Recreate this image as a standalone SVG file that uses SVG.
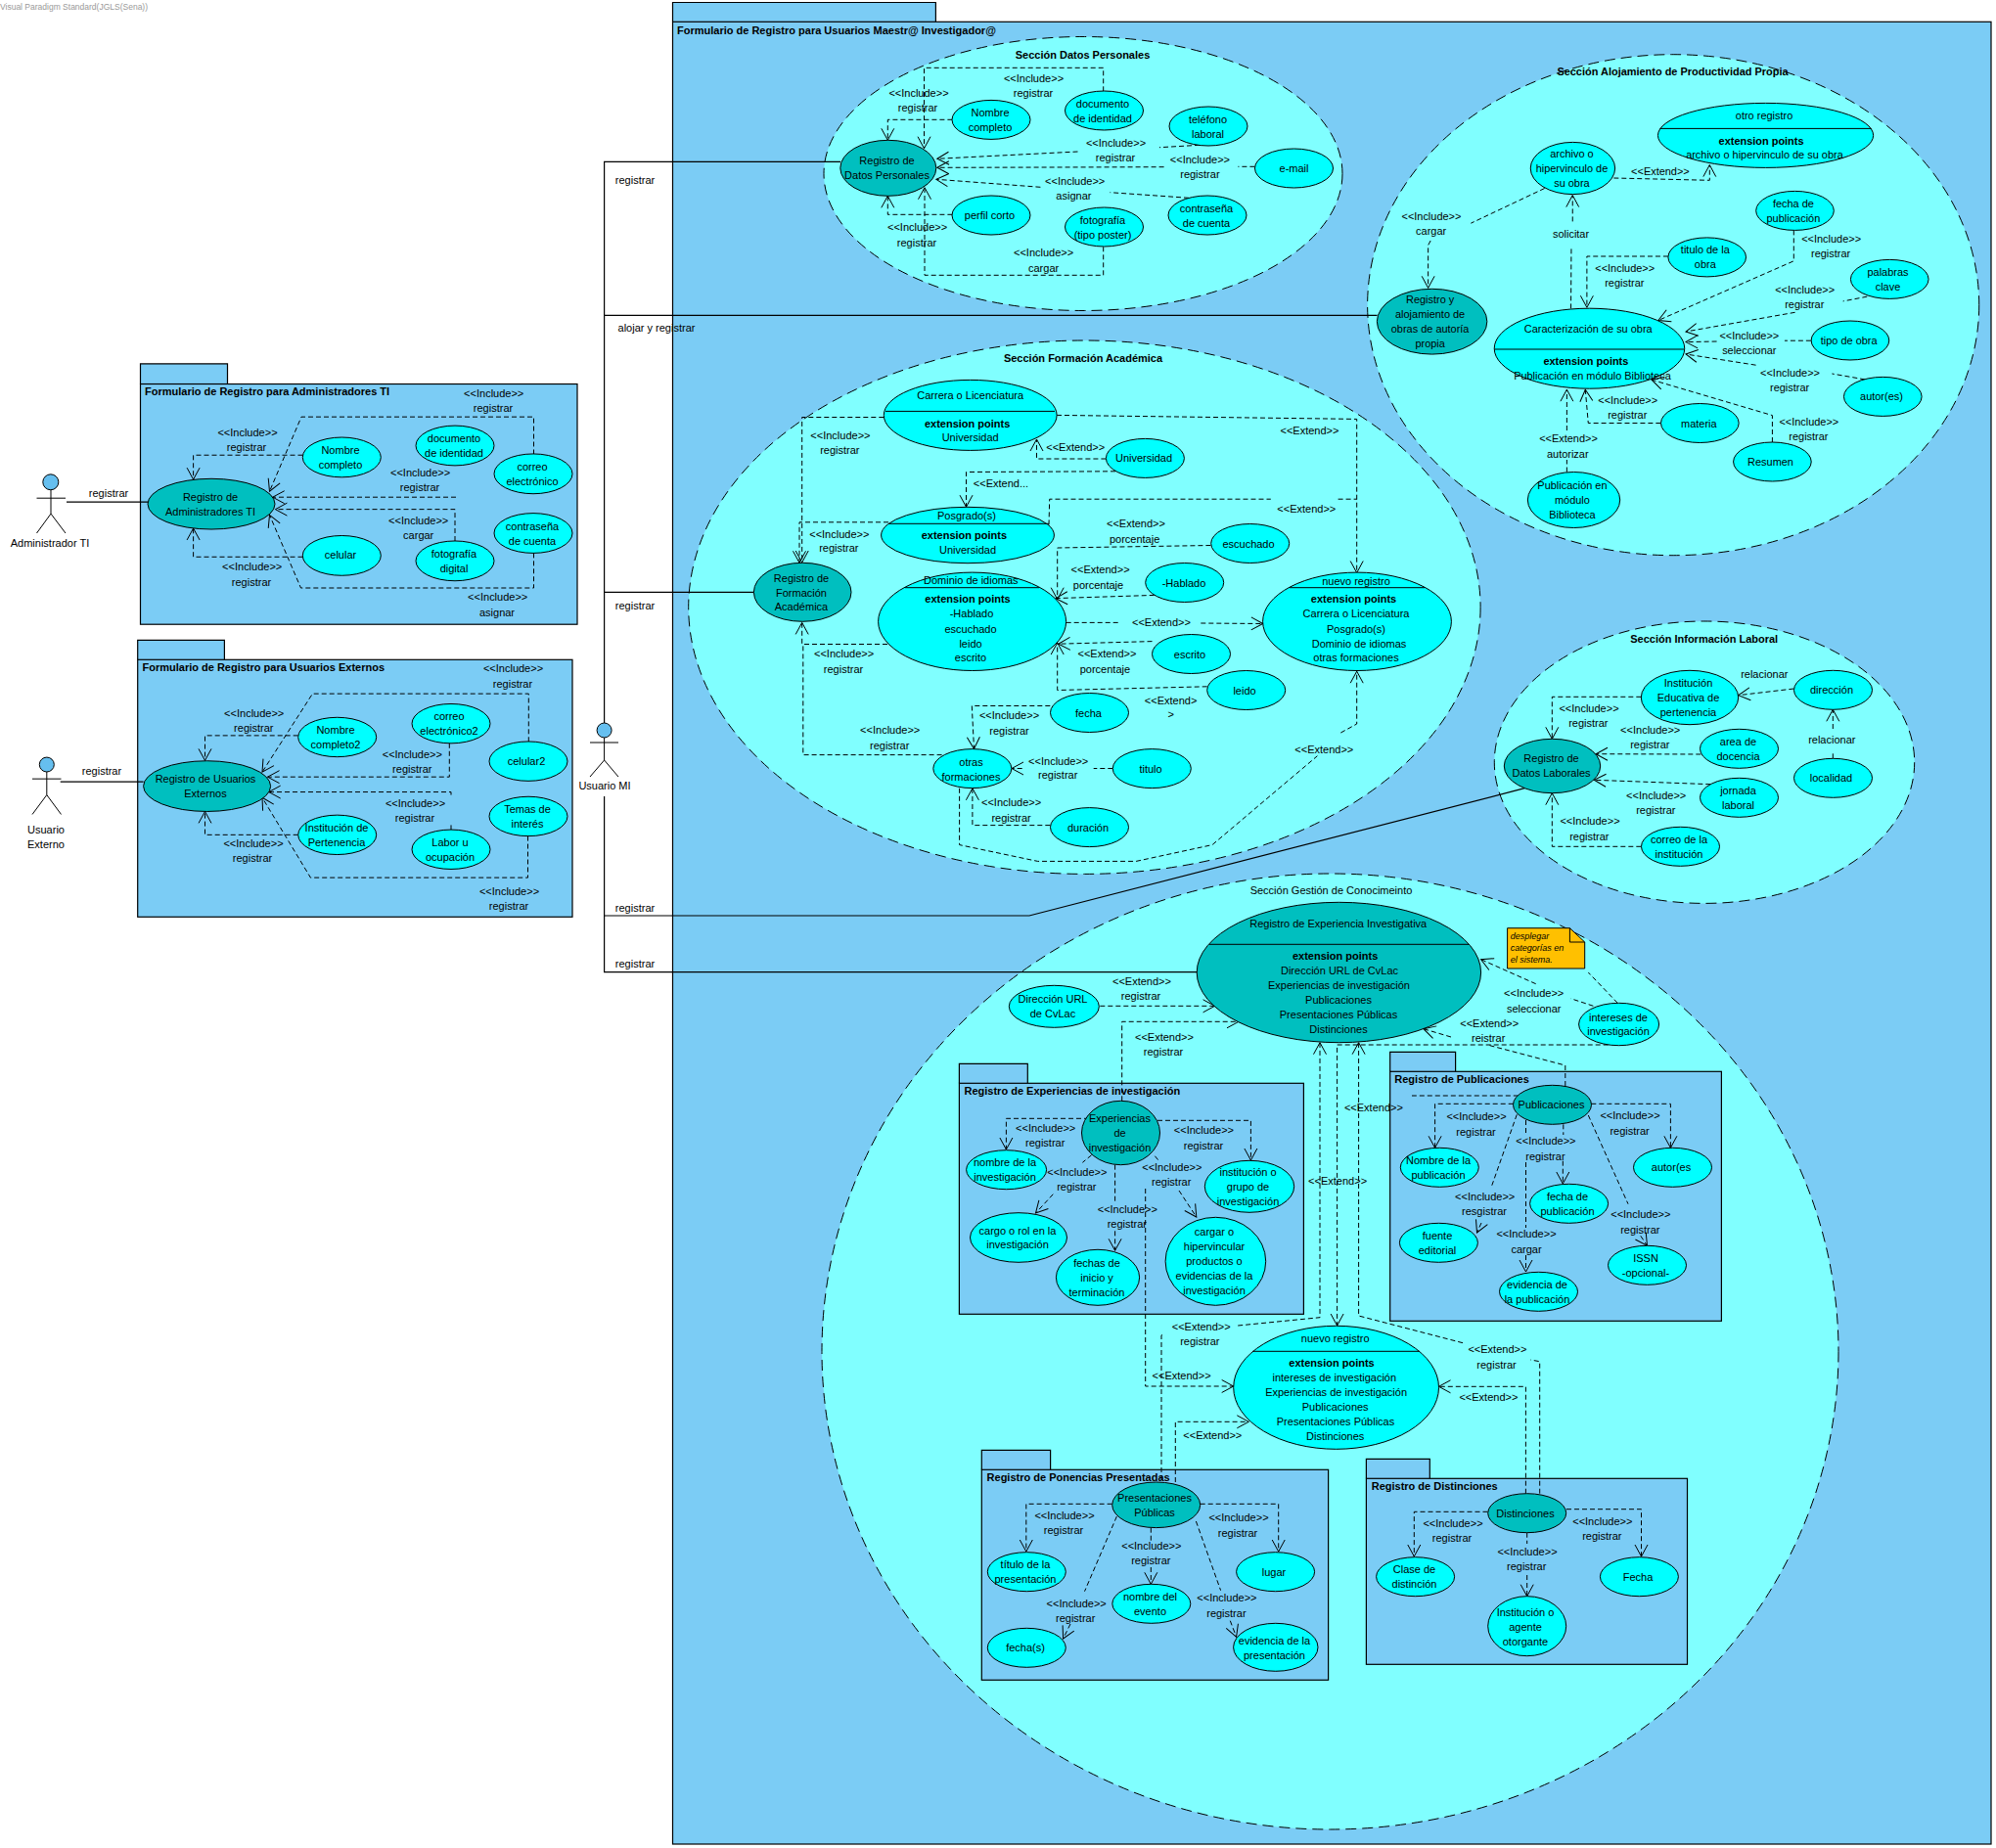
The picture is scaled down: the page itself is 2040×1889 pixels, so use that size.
<svg xmlns="http://www.w3.org/2000/svg" width="2040" height="1889" viewBox="0 0 2040 1889">
<defs>
<style>
text{font-family:"Liberation Sans",Arial,sans-serif;font-size:11px;fill:#000;text-anchor:middle;dominant-baseline:central}
.b{font-weight:bold}
.s{text-anchor:start}
.pk{fill:#7BCCF5;stroke:#000;stroke-width:1.2}
.sec{fill:#80FFFF;stroke:#000;stroke-width:1;stroke-dasharray:11 6}
.u{fill:#00FFFF;stroke:#000;stroke-width:1}
.t{fill:#00BFBF;stroke:#000;stroke-width:1}
.dv{stroke:#000;stroke-width:1;fill:none}
.d{fill:none;stroke:#000;stroke-width:1;stroke-dasharray:5 3}
.a{marker-end:url(#o)}
.ln{fill:none;stroke:#000;stroke-width:1.2}
.ac{fill:none;stroke:#000;stroke-width:1}
.hd{fill:#66BFEF;stroke:#000;stroke-width:1}
</style>
<marker id="o" markerUnits="userSpaceOnUse" markerWidth="16" markerHeight="16" refX="13" refY="8" orient="auto"><path d="M1,1.5L13,8L1,14.5" fill="none" stroke="#000" stroke-width="1"/></marker>
</defs>
<rect width="2040" height="1889" fill="#fff"/>
<text class="s" x="0" y="7" style="font-size:8.5px;fill:#999">Visual Paradigm Standard(JGLS(Sena))</text>

<g id="pkg-main"><path class="pk" d="M687.5,22.3V2.5H956.4V22.3"/><rect class="pk" x="687.5" y="22.3" width="1347.5" height="1862.7"/><text class="b s" x="692" y="30.5">Formulario de Registro para Usuarios Maestr@ Investigador@</text></g>
<g id="left-packages" transform="translate(0 360) scale(1 .99464) translate(0 -360)">
<g id="pkg-admin"><path class="pk" d="M143.5,392.7V372H232.5V392.7"/><rect class="pk" x="143.5" y="392.7" width="446.5" height="247"/><text class="b s" x="148" y="400.5">Formulario de Registro para Administradores TI</text></g>
<g id="pkg-ext"><path class="pk" d="M140.7,676V656H229.4V676"/><rect class="pk" x="140.7" y="676" width="444.3" height="264.4"/><text class="b s" x="145.5" y="684">Formulario de Registro para Usuarios Externos</text></g>
</g>

<g id="sec-datos"><ellipse class="sec" cx="1107" cy="177.5" rx="265" ry="140"/><text class="b" x="1106.5" y="56">Sección Datos Personales</text></g>
<g id="sec-aloj" transform="translate(1380 0) scale(.9954 1) translate(-1380 0)"><ellipse class="sec" cx="1711.7" cy="311.7" rx="314" ry="256"/><text class="b" x="1711" y="73">Sección Alojamiento de Productividad Propia</text></g>
<g id="sec-form"><ellipse class="sec" cx="1108.4" cy="620.7" rx="404.7" ry="272.7"/><text class="b" x="1107" y="366">Sección Formación Académica</text></g>
<g id="sec-lab"><ellipse class="sec" cx="1742" cy="779.2" rx="214.7" ry="144.2"/><text class="b" x="1741.7" y="653.3">Sección Información Laboral</text></g>
<g id="sec-gest"><ellipse class="sec" cx="1359.5" cy="1381.5" rx="519.5" ry="488.5"/><text x="1360.5" y="910">Sección Gestión de Conocimeinto</text></g>

<g id="pkg-exp"><path class="pk" d="M980.4,1107.3V1087.3H1050.3V1107.3"/><rect class="pk" x="980.4" y="1107.3" width="352" height="236"/><text class="b s" x="985.5" y="1115.3">Registro de Experiencias de investigación</text></g>
<g id="pkg-pub"><path class="pk" d="M1420.7,1095.3V1075.3H1487.6V1095.3"/><rect class="pk" x="1420.7" y="1095.3" width="338.7" height="255"/><text class="b s" x="1425.3" y="1103.3">Registro de Publicaciones</text></g>
<g id="pkg-pon"><path class="pk" d="M1003.3,1502.3V1482.3H1073.6V1502.3"/><rect class="pk" x="1003.3" y="1502.3" width="354.3" height="215"/><text class="b s" x="1008.6" y="1510.3">Registro de Ponencias Presentadas</text></g>
<g id="pkg-dis"><path class="pk" d="M1396.4,1511.3V1491.3H1461.3V1511.3"/><rect class="pk" x="1396.4" y="1511.3" width="328.1" height="190"/><text class="b s" x="1401.7" y="1519.3">Registro de Distinciones</text></g>

<g id="connectors">
<!-- actor MI lines -->
<path class="ln" d="M617.6,739V165.3H859M617.6,322.4H1407.5M617.6,605.4H770.5M617.6,814V993.6H1223.5M617.6,936H1052L1558.3,805.7"/>
<text x="649" y="183.7">registrar</text><text x="671" y="335">alojar y registrar</text><text x="649" y="619">registrar</text><text x="649" y="928">registrar</text><text x="649" y="985">registrar</text>
<g id="conn-left" transform="translate(0 360) scale(1 .99464) translate(0 -360)">
<path class="ln" d="M68,514H151M61.7,801.5H146.6"/>
<text x="111" y="505">registrar</text><text x="104" y="790.8">registrar</text>
<!-- admin -->
<path class="d a" d="M309.5,465.8H197.6V490.8"/>
<path class="d a" d="M545.5,465V426.5H308L275.5,503"/>
<path class="d a" d="M466,509H278.7"/>
<path class="d a" d="M465,554V521.5H281.4"/>
<path class="d a" d="M545.5,566.5V602.3H307.5L275.5,527.3"/>
<path class="d a" d="M309.5,570.4H197.6V541"/>
<text x="504.7" y="402.3">&lt;&lt;Include&gt;&gt;</text><text x="504" y="417.7">registrar</text>
<text x="253" y="442.7">&lt;&lt;Include&gt;&gt;</text><text x="252" y="458">registrar</text>
<text x="429.6" y="483.8">&lt;&lt;Include&gt;&gt;</text><text x="429" y="499">registrar</text>
<text x="427.7" y="533">&lt;&lt;Include&gt;&gt;</text><text x="427.7" y="548.5">cargar</text>
<text x="257.7" y="580.4">&lt;&lt;Include&gt;&gt;</text><text x="257" y="595.8">registrar</text>
<text x="508.7" y="611.5">&lt;&lt;Include&gt;&gt;</text><text x="508" y="627">asignar</text>
<!-- externos -->
<path class="d a" d="M304.7,754H209.5V779.6"/>
<path class="d a" d="M540.3,760.4V711H319.4L268,791.5"/>
<path class="d a" d="M459.3,762V796.5H273.5"/>
<path class="d a" d="M461,851V846M461,815V812H274.7"/>
<path class="d a" d="M539.5,857.3V900H317.4L268,817.7"/>
<path class="d a" d="M304.7,856H209.5V832"/>
<text x="524.5" y="685">&lt;&lt;Include&gt;&gt;</text><text x="524" y="700.4">registrar</text>
<text x="259.7" y="731">&lt;&lt;Include&gt;&gt;</text><text x="259.3" y="746.5">registrar</text>
<text x="421.3" y="773.5">&lt;&lt;Include&gt;&gt;</text><text x="421.3" y="788.8">registrar</text>
<text x="424.5" y="823.8">&lt;&lt;Include&gt;&gt;</text><text x="424" y="838.8">registrar</text>
<text x="259" y="864.6">&lt;&lt;Include&gt;&gt;</text><text x="258" y="880">registrar</text>
<text x="520.5" y="913.8">&lt;&lt;Include&gt;&gt;</text><text x="520" y="929">registrar</text>
</g>
<!-- datos personales -->
<path class="d a" d="M973.4,122.3H907.3V143.3"/>
<path class="d a" d="M1127.7,93.3V69.3H944.5V151.7"/>
<path class="d a" d="M1226,148.3L1185,150.7M1101.5,155L957.8,162.3"/>
<path class="d a" d="M1282.4,170.3H1265.4M1189.6,170.7L957.8,171.3"/>
<path class="d a" d="M1215,202.3L1134.5,196.7M1063.4,191.3L956.9,183.3"/>
<path class="d a" d="M973.4,219.3H907.3V200.3"/>
<path class="d a" d="M1127.7,252.3V281.3H945V191.7"/>
<text x="1056.5" y="80.3">&lt;&lt;Include&gt;&gt;</text><text x="1056" y="95.3">registrar</text>
<text x="939" y="95.3">&lt;&lt;Include&gt;&gt;</text><text x="938" y="110.3">registrar</text>
<text x="1140.5" y="146.3">&lt;&lt;Include&gt;&gt;</text><text x="1140" y="161.3">registrar</text>
<text x="1226.4" y="163.3">&lt;&lt;Include&gt;&gt;</text><text x="1226.4" y="178.3">registrar</text>
<text x="1098.7" y="185.3">&lt;&lt;Include&gt;&gt;</text><text x="1097.4" y="200.3">asignar</text>
<text x="937.6" y="232.3">&lt;&lt;Include&gt;&gt;</text><text x="937" y="247.7">registrar</text>
<text x="1066.6" y="258.3">&lt;&lt;Include&gt;&gt;</text><text x="1066.6" y="273.7">cargar</text>
<!-- alojamiento -->
<g id="conn-aloj" transform="translate(1380 0) scale(.9954 1) translate(-1380 0)">
<path class="d a" d="M1579.6,192.5L1503.9,228.2M1462.5,246L1460,250.7V294.3"/>
<path class="d a" d="M1650.6,182L1749,184.3V168.6"/>
<path class="d a" d="M1606.6,315.4L1607,252M1608.3,226.4V199.6"/>
<path class="d a" d="M1706.4,262H1623V314.3"/>
<path class="d a" d="M1835.4,235.4V266.8L1696.3,327.5"/>
<path class="d a" d="M1910.7,303.2L1886,307.9M1836.7,319.3L1724.6,339"/>
<path class="d a" d="M1853,348.2H1826M1756.3,349L1724.6,349.6"/>
<path class="d a" d="M1908.5,387.9L1874.7,382M1796.5,373.2L1724.6,362"/>
<path class="d a" d="M1813.4,452V424.6L1689.5,388.2"/>
<path class="d a" d="M1698.8,432.5H1624.4L1621.4,398.2"/>
<path class="d a" d="M1602.4,482.5V470M1602.4,440V398.2"/>
<text x="1463.3" y="221">&lt;&lt;Include&gt;&gt;</text><text x="1463" y="236.4">cargar</text>
<text x="1698.4" y="175">&lt;&lt;Extend&gt;&gt;</text>
<text x="1606.6" y="239.3">solicitar</text>
<text x="1662" y="274.3">&lt;&lt;Include&gt;&gt;</text><text x="1661.6" y="289.3">registrar</text>
<text x="1873.9" y="244.3">&lt;&lt;Include&gt;&gt;</text><text x="1873.4" y="259.3">registrar</text>
<text x="1846.8" y="296">&lt;&lt;Include&gt;&gt;</text><text x="1846.4" y="311.4">registrar</text>
<text x="1789.7" y="343.2">&lt;&lt;Include&gt;&gt;</text><text x="1789.7" y="358.2">seleccionar</text>
<text x="1831.6" y="381">&lt;&lt;Include&gt;&gt;</text><text x="1831.2" y="396.4">registrar</text>
<text x="1665" y="409">&lt;&lt;Include&gt;&gt;</text><text x="1664.6" y="424.3">registrar</text>
<text x="1851" y="431">&lt;&lt;Include&gt;&gt;</text><text x="1850.6" y="446">registrar</text>
<text x="1604" y="448.2">&lt;&lt;Extend&gt;&gt;</text><text x="1603.3" y="463.6">autorizar</text>
</g>
<!-- formacion -->
<path class="d a" d="M903.3,426.5H819.7V575"/>
<path class="d a" d="M908,533.8H817V575.3"/>
<path class="d a" d="M1080,424.4L1386.7,428.4V585.5"/>
<path class="d a" d="M1130.4,469H1059.5V449"/>
<path class="d a" d="M1140,481.8L987.5,482.5V518.2"/>
<path class="d" d="M1072,536.4L1072.7,510.2H1298.8M1367.6,510.2H1386.7"/>
<path class="d a" d="M1237.4,557.5L1080.7,560V612.7"/>
<path class="d a" d="M1179.7,608.4L1079,611.6"/>
<path class="d a" d="M1177.5,655.6L1081.7,658.2"/>
<path class="d a" d="M1233.7,701.8L1080.7,705.5V657"/>
<path class="d a" d="M1089.7,636.4H1145M1227.3,637L1290.8,637.5"/>
<path class="d a" d="M907,658.5H819.7V636.4"/>
<path class="d" d="M962.6,771.6H820.8V658.5"/>
<path class="d a" d="M1073.3,721.5H993.3L995.5,765.5"/>
<path class="d a" d="M1137.3,785.5H1117.7M1044.7,785.5H1034"/>
<path class="d a" d="M1073.3,843.6H993.9V805.8"/>
<path class="d a" d="M980.6,805.8V863.6L1060.6,880.4H1161.1L1239,863.6L1346.4,772.7M1370.3,749L1386.7,740V686.2"/>
<text x="858.9" y="445">&lt;&lt;Include&gt;&gt;</text><text x="858.3" y="460.4">registrar</text>
<text x="1099.2" y="457">&lt;&lt;Extend&gt;&gt;</text>
<text x="1338.5" y="440">&lt;&lt;Extend&gt;&gt;</text>
<text x="1023" y="494.2">&lt;&lt;Extend...</text>
<text x="1335.3" y="520">&lt;&lt;Extend&gt;&gt;</text>
<text x="1161" y="535.3">&lt;&lt;Extend&gt;&gt;</text><text x="1159.6" y="550.5">porcentaje</text>
<text x="857.8" y="545.5">&lt;&lt;Include&gt;&gt;</text><text x="857.3" y="560.4">registrar</text>
<text x="1124.6" y="582.2">&lt;&lt;Extend&gt;&gt;</text><text x="1122.5" y="597.5">porcentaje</text>
<text x="1187" y="636.4">&lt;&lt;Extend&gt;&gt;</text>
<text x="862.6" y="668.4">&lt;&lt;Include&gt;&gt;</text><text x="862" y="683.6">registrar</text>
<text x="1131.5" y="668.4">&lt;&lt;Extend&gt;&gt;</text><text x="1129.4" y="683.6">porcentaje</text>
<text x="1196.6" y="715.6">&lt;&lt;Extend&gt;</text><text x="1196.6" y="730.2">&gt;</text>
<text x="1031.5" y="731.3">&lt;&lt;Include&gt;&gt;</text><text x="1031.5" y="746.5">registrar</text>
<text x="909.7" y="746.2">&lt;&lt;Include&gt;&gt;</text><text x="909.2" y="761.5">registrar</text>
<text x="1081.7" y="777.5">&lt;&lt;Include&gt;&gt;</text><text x="1081.2" y="792.4">registrar</text>
<text x="1353.3" y="766.2">&lt;&lt;Extend&gt;&gt;</text>
<text x="1033.6" y="820.4">&lt;&lt;Include&gt;&gt;</text><text x="1033.6" y="835.6">registrar</text>
<!-- laboral -->
<path class="d a" d="M1677.3,712.3H1586.3V755.3"/>
<path class="d a" d="M1738.3,771L1631,770.7"/>
<path class="d a" d="M1748.3,801.7L1629.3,797.3"/>
<path class="d a" d="M1677.3,865.3H1586.3V810.7"/>
<path class="d a" d="M1833.3,704L1776.7,710.7"/>
<path class="d a" d="M1873.3,775.3V770M1873.3,745V725.3"/>
<text x="1624" y="724">&lt;&lt;Include&gt;&gt;</text><text x="1623.3" y="739.3">registrar</text>
<text x="1686.7" y="746.3">&lt;&lt;Include&gt;&gt;</text><text x="1686.3" y="761.3">registrar</text>
<text x="1692.7" y="813">&lt;&lt;Include&gt;&gt;</text><text x="1692.3" y="828.3">registrar</text>
<text x="1625" y="839.3">&lt;&lt;Include&gt;&gt;</text><text x="1624.3" y="854.7">registrar</text>
<text x="1803.3" y="689.3">relacionar</text>
<text x="1872.3" y="756.3">relacionar</text>
<!-- gestion -->
<path class="d" d="M1653.3,1025.3L1623.3,994"/>
<path class="d a" d="M1628.4,1028.3L1605.4,1020.7M1569.7,1005.7L1513.6,980.7"/>
<path class="d a" d="M1124.3,1028.3H1241.6"/>
<path class="d a" d="M1146.7,1125.3V1044.3H1266"/>
<path class="d a" d="M1599.8,1110V1089L1521.2,1068.3M1483,1060L1454.9,1051.7"/>
<path class="d a" d="M1643.7,1068H1366.6V1355"/>
<path class="d" d="M1551.8,1120H1443"/>
<path class="d a" d="M1187,1513V1365L1189.3,1363.3M1265.2,1355L1349,1346.7V1065.7"/>
<path class="d a" d="M1573.7,1526.7V1391.7L1564.3,1390M1495,1372.7L1388.6,1345V1065.7"/>
<path class="d a" d="M1170.7,1215V1417H1260.7"/>
<path class="d a" d="M1201.3,1515V1453.3H1276.3"/>
<path class="d a" d="M1559.4,1526.7V1417.3H1470.5"/>
<path class="d a" d="M1113,1143.3H1028.4V1175"/>
<path class="d a" d="M1183,1145.3H1278.4V1186"/>
<path class="d a" d="M1115.6,1180.7L1106.4,1188.3M1076.3,1220.7L1058.5,1240"/>
<path class="d a" d="M1139.6,1190.7V1230M1139.6,1258.3V1278.3"/>
<path class="d a" d="M1180.4,1181.7L1184.5,1186.7M1205,1217L1222.8,1244"/>
<path class="d a" d="M1546.7,1128.3H1466.6V1173.3"/>
<path class="d a" d="M1626.3,1128.3H1707.4V1173.3"/>
<path class="d a" d="M1597.8,1149.3V1160M1597.3,1186.7V1210"/>
<path class="d a" d="M1550.3,1139.3L1524.8,1211.7M1514,1250L1509.5,1260"/>
<path class="d a" d="M1559.5,1145V1160M1559.5,1188V1255M1559.5,1283V1300"/>
<path class="d a" d="M1623.3,1140L1664,1230.7M1676.8,1263.3L1683.5,1273.3"/>
<path class="d a" d="M1136.6,1537.3H1048.8V1586"/>
<path class="d a" d="M1226.7,1537.3H1306.7V1586"/>
<path class="d a" d="M1176.3,1561.7V1575M1176.3,1602V1619.3"/>
<path class="d a" d="M1141.4,1550L1108.5,1626.7M1094,1660L1086.6,1675"/>
<path class="d a" d="M1222.4,1555L1247.6,1625.7M1257.3,1656.7L1263.6,1673.3"/>
<path class="d a" d="M1520.5,1545.3H1445.3V1591"/>
<path class="d a" d="M1601,1542.7H1677.5V1591"/>
<path class="d a" d="M1560.7,1566.7V1578M1560.7,1610V1631.7"/>
<text x="1167" y="1003.3">&lt;&lt;Extend&gt;&gt;</text><text x="1166" y="1018.3">registrar</text>
<text x="1190" y="1060.3">&lt;&lt;Extend&gt;&gt;</text><text x="1189" y="1075.3">registrar</text>
<text x="1567.7" y="1015.3">&lt;&lt;Include&gt;&gt;</text><text x="1567.7" y="1030.7">seleccionar</text>
<text x="1522.2" y="1046.3">&lt;&lt;Extend&gt;&gt;</text><text x="1521.2" y="1061.3">reistrar</text>
<text x="1403.9" y="1132.3">&lt;&lt;Extend&gt;&gt;</text>
<text x="1367.1" y="1207">&lt;&lt;Extend&gt;&gt;</text>
<text x="1068.7" y="1153.3">&lt;&lt;Include&gt;&gt;</text><text x="1068.2" y="1168.3">registrar</text>
<text x="1230.4" y="1155.3">&lt;&lt;Include&gt;&gt;</text><text x="1230" y="1170.7">registrar</text>
<text x="1100.8" y="1198.3">&lt;&lt;Include&gt;&gt;</text><text x="1100.3" y="1213.3">registrar</text>
<text x="1197.8" y="1193.3">&lt;&lt;Include&gt;&gt;</text><text x="1197.2" y="1208.3">registrar</text>
<text x="1152.3" y="1236.3">&lt;&lt;Include&gt;&gt;</text><text x="1151.8" y="1251.3">registrar</text>
<text x="1509" y="1141.3">&lt;&lt;Include&gt;&gt;</text><text x="1508.5" y="1156.7">registrar</text>
<text x="1666" y="1140.3">&lt;&lt;Include&gt;&gt;</text><text x="1665.6" y="1155.7">registrar</text>
<text x="1579.9" y="1166.3">&lt;&lt;Include&gt;&gt;</text><text x="1579.4" y="1181.7">registrar</text>
<text x="1517.7" y="1223.3">&lt;&lt;Include&gt;&gt;</text><text x="1517" y="1238.3">resgistrar</text>
<text x="1676.8" y="1241.3">&lt;&lt;Include&gt;&gt;</text><text x="1676.3" y="1256.7">registrar</text>
<text x="1560" y="1261.3">&lt;&lt;Include&gt;&gt;</text><text x="1560" y="1276.7">cargar</text>
<text x="1227.7" y="1356.3">&lt;&lt;Extend&gt;&gt;</text><text x="1226.3" y="1371.3">registrar</text>
<text x="1207.6" y="1406.3">&lt;&lt;Extend&gt;&gt;</text>
<text x="1239.3" y="1467.3">&lt;&lt;Extend&gt;&gt;</text>
<text x="1530.4" y="1379.3">&lt;&lt;Extend&gt;&gt;</text><text x="1529.5" y="1394.7">registrar</text>
<text x="1521.4" y="1428.3">&lt;&lt;Extend&gt;&gt;</text>
<text x="1088" y="1549.3">&lt;&lt;Include&gt;&gt;</text><text x="1087" y="1564.3">registrar</text>
<text x="1266" y="1551.3">&lt;&lt;Include&gt;&gt;</text><text x="1265" y="1566.7">registrar</text>
<text x="1176.8" y="1580">&lt;&lt;Include&gt;&gt;</text><text x="1176.3" y="1595.3">registrar</text>
<text x="1100.2" y="1638.7">&lt;&lt;Include&gt;&gt;</text><text x="1099.2" y="1653.7">registrar</text>
<text x="1253.9" y="1633.3">&lt;&lt;Include&gt;&gt;</text><text x="1253.4" y="1648.7">registrar</text>
<text x="1485" y="1557.3">&lt;&lt;Include&gt;&gt;</text><text x="1484" y="1572.3">registrar</text>
<text x="1637.8" y="1555">&lt;&lt;Include&gt;&gt;</text><text x="1637.3" y="1570.3">registrar</text>
<text x="1561" y="1586.3">&lt;&lt;Include&gt;&gt;</text><text x="1560.2" y="1601.3">registrar</text>
</g>

<g id="actor-mi"><circle class="hd" cx="617.6" cy="746.5" r="7.5"/><path class="ac" d="M603,759H632M617.6,754V777L603,794M617.6,777L632,794"/><text x="618" y="803">Usuario MI</text></g>

<g id="left-nodes" transform="translate(0 360) scale(1 .99464) translate(0 -360)">
<g id="actor-admin"><circle class="hd" cx="51.8" cy="493.5" r="8"/><path class="ac" d="M37.5,510H67M52,501.5V526L37.5,546M52,526L67,546"/><text x="51" y="556">Administrador TI</text></g>
<g id="actor-ext"><circle class="hd" cx="47.8" cy="783.8" r="7.5"/><path class="ac" d="M33,798.5H62.5M47.8,791.3V815L33,835M47.8,815L62.5,835"/><text x="47" y="850.8">Usuario</text><text x="47" y="865.8">Externo</text></g>
<g id="uc-admin"><ellipse class="t" cx="216" cy="516" rx="65" ry="26"/><text x="215" y="509">Registro de</text><text x="215" y="524">Administradores TI</text></g>
<g id="a-nombre"><ellipse class="u" cx="349.3" cy="468" rx="40" ry="20.5"/><text x="348" y="461">Nombre</text><text x="348" y="476">completo</text></g>
<g id="a-doc"><ellipse class="u" cx="465" cy="456" rx="40" ry="20.5"/><text x="464" y="448.5">documento</text><text x="464" y="463.5">de identidad</text></g>
<g id="a-correo"><ellipse class="u" cx="545" cy="485" rx="40" ry="20.5"/><text x="544" y="478">correo</text><text x="544" y="493">electrónico</text></g>
<g id="a-pass"><ellipse class="u" cx="545" cy="546" rx="40" ry="20.5"/><text x="544" y="539">contraseña</text><text x="544" y="554">de cuenta</text></g>
<g id="a-foto"><ellipse class="u" cx="465" cy="574.5" rx="40" ry="20.5"/><text x="464" y="567">fotografía</text><text x="464" y="582">digital</text></g>
<g id="a-cel"><ellipse class="u" cx="349.3" cy="569" rx="40" ry="20.5"/><text x="348" y="568">celular</text></g>
<g id="uc-ext"><ellipse class="t" cx="211.6" cy="806" rx="65" ry="26"/><text x="210" y="798.5">Registro de Usuarios</text><text x="210" y="813.5">Externos</text></g>
<g id="e-nombre"><ellipse class="u" cx="344.7" cy="755.6" rx="40" ry="20.3"/><text x="343" y="748.5">Nombre</text><text x="343" y="763.5">completo2</text></g>
<g id="e-correo"><ellipse class="u" cx="461" cy="741.7" rx="40" ry="20.3"/><text x="459" y="734.5">correo</text><text x="459" y="749.5">electrónico2</text></g>
<g id="e-cel"><ellipse class="u" cx="540" cy="780.4" rx="40" ry="20.3"/><text x="538" y="780">celular2</text></g>
<g id="e-temas"><ellipse class="u" cx="540" cy="837" rx="40" ry="20.3"/><text x="539" y="829.5">Temas de</text><text x="539" y="844.5">interés</text></g>
<g id="e-labor"><ellipse class="u" cx="461" cy="871" rx="40" ry="20.3"/><text x="460" y="863.5">Labor u</text><text x="460" y="878.5">ocupación</text></g>
<g id="e-inst"><ellipse class="u" cx="344.7" cy="856" rx="40" ry="20.3"/><text x="344" y="848.5">Institución de</text><text x="344" y="863.5">Pertenencia</text></g>
</g>

<g id="uc-datos"><ellipse class="t" cx="907.8" cy="171.8" rx="49" ry="28.5"/><text x="906.5" y="164.3">Registro de</text><text x="906.5" y="179.3">Datos Personales</text></g>
<g id="d-nombre"><ellipse class="u" cx="1013" cy="122.4" rx="40" ry="20"/><text x="1012" y="115.3">Nombre</text><text x="1012" y="130.3">completo</text></g>
<g id="d-doc"><ellipse class="u" cx="1128.5" cy="113" rx="40" ry="20"/><text x="1127" y="106.3">documento</text><text x="1127" y="121.3">de identidad</text></g>
<g id="d-tel"><ellipse class="u" cx="1235" cy="129" rx="40" ry="20"/><text x="1234.5" y="122.3">teléfono</text><text x="1234.5" y="137.3">laboral</text></g>
<g id="d-mail"><ellipse class="u" cx="1322.5" cy="172" rx="40" ry="20"/><text x="1322.5" y="172">e-mail</text></g>
<g id="d-pass"><ellipse class="u" cx="1234" cy="220" rx="40" ry="20"/><text x="1233" y="213.3">contraseña</text><text x="1233" y="228.3">de cuenta</text></g>
<g id="d-foto"><ellipse class="u" cx="1128.5" cy="232" rx="40" ry="20"/><text x="1127" y="225.3">fotografía</text><text x="1127" y="240.3">(tipo poster)</text></g>
<g id="d-perfil"><ellipse class="u" cx="1013" cy="220" rx="40" ry="20"/><text x="1011.5" y="220">perfil corto</text></g>

<g id="aloj-nodes" transform="translate(1380 0) scale(.9954 1) translate(-1380 0)">
<g id="uc-aloj"><ellipse class="t" cx="1464" cy="328.7" rx="56.5" ry="33.4"/><text x="1462" y="306">Registro y</text><text x="1462" y="321">alojamiento de</text><text x="1462" y="336">obras de autoría</text><text x="1462" y="351">propia</text></g>
<g id="al-car"><ellipse class="u" cx="1625.6" cy="356.2" rx="97.7" ry="41"/><path class="dv" d="M1528,357H1723"/><text x="1624.4" y="336">Caracterización de su obra</text><text class="b" x="1622" y="369.3">extension points</text><text x="1628.6" y="384">Publicación en módulo Biblioteca</text></g>
<g id="al-otro"><ellipse class="u" cx="1806.5" cy="138.4" rx="110.6" ry="33"/><path class="dv" d="M1698,131.4H1915"/><text x="1805" y="118.2">otro registro</text><text class="b" x="1802" y="143.6">extension points</text><text x="1805.4" y="158.2">archivo o hipervinculo de su obra</text></g>
<g id="al-arch"><ellipse class="u" cx="1608.5" cy="172" rx="43.4" ry="26.6"/><text x="1607.5" y="157.5">archivo o</text><text x="1607.5" y="172.5">hipervinculo de</text><text x="1607.5" y="187">su obra</text></g>
<g id="al-fecha"><ellipse class="u" cx="1836.6" cy="215.4" rx="40" ry="20"/><text x="1835" y="208">fecha de</text><text x="1835" y="223">publicación</text></g>
<g id="al-tit"><ellipse class="u" cx="1746.4" cy="262.9" rx="40" ry="20"/><text x="1744.5" y="255">titulo de la</text><text x="1744.5" y="270">obra</text></g>
<g id="al-pal"><ellipse class="u" cx="1933.8" cy="285.4" rx="40" ry="20"/><text x="1932" y="278.3">palabras</text><text x="1932" y="293.3">clave</text></g>
<g id="al-tipo"><ellipse class="u" cx="1893.3" cy="348" rx="40" ry="20"/><text x="1892" y="348">tipo de obra</text></g>
<g id="al-autor"><ellipse class="u" cx="1926.8" cy="405.4" rx="40" ry="20"/><text x="1925.5" y="405.4">autor(es)</text></g>
<g id="al-mat"><ellipse class="u" cx="1739" cy="432.5" rx="40" ry="20"/><text x="1738" y="432.5">materia</text></g>
<g id="al-res"><ellipse class="u" cx="1813.4" cy="472" rx="40" ry="20"/><text x="1811.5" y="472">Resumen</text></g>
<g id="al-pub"><ellipse class="u" cx="1609.6" cy="511" rx="47.4" ry="28.5"/><text x="1608" y="496.4">Publicación en</text><text x="1608" y="511.4">módulo</text><text x="1608" y="526.4">Biblioteca</text></g>
</g>

<g id="uc-form"><ellipse class="t" cx="820.2" cy="605.3" rx="49.8" ry="30"/><text x="819" y="590.5">Registro de</text><text x="819" y="605.5">Formación</text><text x="819" y="620.4">Académica</text></g>
<g id="f-car"><ellipse class="u" cx="991.7" cy="424.4" rx="88.4" ry="36"/><path class="dv" d="M905,420.4H1078"/><text x="991.7" y="404.4">Carrera o Licenciatura</text><text class="b" x="988.6" y="432.7">extension points</text><text x="991.7" y="447.3">Universidad</text></g>
<g id="f-uni"><ellipse class="u" cx="1170.4" cy="468.4" rx="40" ry="20"/><text x="1169" y="468.4">Universidad</text></g>
<g id="f-pos"><ellipse class="u" cx="989" cy="547" rx="88.4" ry="28.7"/><path class="dv" d="M908,535.3H1072"/><text x="988" y="527.3">Posgrado(s)</text><text class="b" x="985.4" y="547.3">extension points</text><text x="989" y="562.2">Universidad</text></g>
<g id="f-dom"><ellipse class="u" cx="993.6" cy="635.3" rx="96" ry="50.2"/><path class="dv" d="M925,600.7H1062"/><text x="992.3" y="593">Dominio de idiomas</text><text class="b" x="989" y="612.4">extension points</text><text x="993" y="627.3">-Hablado</text><text x="992" y="642.5">escuchado</text><text x="992" y="657.5">leido</text><text x="992" y="672.4">escrito</text></g>
<g id="f-nue"><ellipse class="u" cx="1387" cy="635.3" rx="96.4" ry="50.2"/><path class="dv" d="M1318,600.7H1456"/><text x="1386" y="593.5">nuevo registro</text><text class="b" x="1383.5" y="612.4">extension points</text><text x="1386" y="627.3">Carrera o Licenciatura</text><text x="1386" y="642.5">Posgrado(s)</text><text x="1389" y="657.5">Dominio de idiomas</text><text x="1386" y="672.4">otras formaciones</text></g>
<g id="f-esc"><ellipse class="u" cx="1277.7" cy="555.5" rx="40" ry="20"/><text x="1276" y="555.5">escuchado</text></g>
<g id="f-hab"><ellipse class="u" cx="1210.7" cy="595.5" rx="40" ry="20"/><text x="1210" y="595.5">-Hablado</text></g>
<g id="f-escr"><ellipse class="u" cx="1217.5" cy="668.5" rx="40" ry="20"/><text x="1216" y="668.5">escrito</text></g>
<g id="f-lei"><ellipse class="u" cx="1273.7" cy="705.5" rx="40" ry="20"/><text x="1272" y="705.5">leido</text></g>
<g id="f-fec"><ellipse class="u" cx="1113.5" cy="728.5" rx="40" ry="20"/><text x="1112.5" y="728.5">fecha</text></g>
<g id="f-otr"><ellipse class="u" cx="993.8" cy="785.6" rx="40" ry="20"/><text x="992.5" y="778.5">otras</text><text x="992.5" y="793.5">formaciones</text></g>
<g id="f-tit"><ellipse class="u" cx="1177.3" cy="785.6" rx="40" ry="20"/><text x="1176" y="785.6">titulo</text></g>
<g id="f-dur"><ellipse class="u" cx="1113.5" cy="845.6" rx="40" ry="20"/><text x="1112" y="845.6">duración</text></g>

<g id="uc-lab"><ellipse class="t" cx="1586.5" cy="783" rx="49.2" ry="27.7"/><text x="1585.5" y="775.3">Registro de</text><text x="1585.5" y="790.3">Datos Laborales</text></g>
<g id="l-inst"><ellipse class="u" cx="1727" cy="713" rx="49.7" ry="27.7"/><text x="1725.5" y="698.3">Institución</text><text x="1725.5" y="713.3">Educativa de</text><text x="1725.5" y="728.3">pertenencia</text></g>
<g id="l-dir"><ellipse class="u" cx="1873.5" cy="705.3" rx="40" ry="20"/><text x="1872" y="705.3">dirección</text></g>
<g id="l-loc"><ellipse class="u" cx="1873.5" cy="795.3" rx="40" ry="20"/><text x="1871.5" y="795.3">localidad</text></g>
<g id="l-area"><ellipse class="u" cx="1777.5" cy="765.3" rx="40" ry="20"/><text x="1776.5" y="758.3">area de</text><text x="1776.5" y="773.3">docencia</text></g>
<g id="l-jor"><ellipse class="u" cx="1777.5" cy="815.3" rx="40" ry="20"/><text x="1776.5" y="808.3">jornada</text><text x="1776.5" y="823.3">laboral</text></g>
<g id="l-cor"><ellipse class="u" cx="1717.5" cy="865.3" rx="40" ry="20"/><text x="1716" y="858.3">correo de la</text><text x="1716" y="873.3">institución</text></g>

<g id="uc-exp"><ellipse class="t" cx="1368.4" cy="994" rx="145.2" ry="71.7"/><path class="dv" d="M1236,965.3H1501"/><text x="1367.7" y="944.3">Registro de Experiencia Investigativa</text><text class="b" x="1364.6" y="977.3">extension points</text><text x="1369" y="992.3">Dirección URL de CvLac</text><text x="1368.5" y="1007.3">Experiencias de investigación</text><text x="1368" y="1022.3">Publicaciones</text><text x="1368" y="1037.3">Presentaciones Públicas</text><text x="1368" y="1052.3">Distinciones</text></g>
<g id="note"><path d="M1540.6,948.7H1604.4L1619.7,963V990H1540.6Z" fill="#FFC000" stroke="#000"/><path class="dv" d="M1604.4,948.7V963H1619.7"/><text class="s" x="1543.7" y="956.7" style="font-size:9px;font-style:italic">desplegar</text><text class="s" x="1543.7" y="969" style="font-size:9px;font-style:italic">categorías en</text><text class="s" x="1543.7" y="980.7" style="font-size:9px;font-style:italic">el sistema.</text></g>
<g id="g-url"><ellipse class="u" cx="1077.3" cy="1028.8" rx="46" ry="21.5"/><text x="1076" y="1021.3">Dirección URL</text><text x="1076" y="1036.3">de CvLac</text></g>
<g id="g-int"><ellipse class="u" cx="1654.6" cy="1047" rx="41" ry="21.7"/><text x="1654" y="1039.7">intereses de</text><text x="1654" y="1054.3">investigación</text></g>
<g id="x-exp"><ellipse class="t" cx="1145.5" cy="1158" rx="40" ry="32.7"/><text x="1144.5" y="1143.3">Experiencias</text><text x="1144.5" y="1158.3">de</text><text x="1144.5" y="1173.3">investigación</text></g>
<g id="x-nom"><ellipse class="u" cx="1028.6" cy="1195.7" rx="41" ry="20"/><text x="1027" y="1188.3">nombre de la</text><text x="1027" y="1203.3">investigación</text></g>
<g id="x-ins"><ellipse class="u" cx="1277" cy="1212.8" rx="45.7" ry="26.5"/><text x="1275.5" y="1198.3">institución o</text><text x="1275.5" y="1213.3">grupo de</text><text x="1275.5" y="1228.3">investigación</text></g>
<g id="x-car"><ellipse class="u" cx="1041" cy="1265" rx="49.5" ry="25.3"/><text x="1040" y="1257.7">cargo o rol en la</text><text x="1040" y="1272.3">investigación</text></g>
<g id="x-fec"><ellipse class="u" cx="1122" cy="1305.8" rx="42.6" ry="28.5"/><text x="1121" y="1291.3">fechas de</text><text x="1121" y="1306.3">inicio y</text><text x="1121" y="1321.3">terminación</text></g>
<g id="x-cag"><ellipse class="u" cx="1242.4" cy="1289.3" rx="51.3" ry="45"/><text x="1241" y="1259.3">cargar o</text><text x="1241" y="1274.3">hipervincular</text><text x="1241" y="1289.3">productos o</text><text x="1241" y="1304.3">evidencias de la</text><text x="1241" y="1319.3">investigación</text></g>
<g id="p-pub"><ellipse class="t" cx="1586.5" cy="1129.3" rx="40" ry="20"/><text x="1585.5" y="1129.3">Publicaciones</text></g>
<g id="p-nom"><ellipse class="u" cx="1471.3" cy="1193.3" rx="40" ry="20"/><text x="1470" y="1186.3">Nombre de la</text><text x="1470" y="1201.3">publicación</text></g>
<g id="p-aut"><ellipse class="u" cx="1709.5" cy="1193.3" rx="40" ry="20"/><text x="1708" y="1193.3">autor(es</text></g>
<g id="p-fec"><ellipse class="u" cx="1603.6" cy="1230.3" rx="40" ry="20"/><text x="1602" y="1223.3">fecha de</text><text x="1602" y="1238.3">publicación</text></g>
<g id="p-fue"><ellipse class="u" cx="1470.4" cy="1270.3" rx="40" ry="20"/><text x="1469" y="1263.3">fuente</text><text x="1469" y="1278.3">editorial</text></g>
<g id="p-iss"><ellipse class="u" cx="1683.5" cy="1293.3" rx="40" ry="20"/><text x="1682" y="1286.3">ISSN</text><text x="1682" y="1301.3">-opcional-</text></g>
<g id="p-evi"><ellipse class="u" cx="1572.5" cy="1320.3" rx="40" ry="20"/><text x="1571" y="1313.3">evidencia de</text><text x="1571" y="1328.3">la publicación</text></g>
<g id="g-nue"><ellipse class="u" cx="1365.6" cy="1418.3" rx="104.9" ry="63"/><path class="dv" d="M1280,1381.3H1451"/><text x="1364.7" y="1368.3">nuevo registro</text><text class="b" x="1361" y="1393.3">extension points</text><text x="1363.8" y="1408.3">intereses de investigación</text><text x="1365.6" y="1423.3">Experiencias de investigación</text><text x="1364.7" y="1438.3">Publicaciones</text><text x="1365" y="1453.3">Presentaciones Públicas</text><text x="1364.7" y="1468.3">Distinciones</text></g>
<g id="o-pre"><ellipse class="t" cx="1181.7" cy="1538.3" rx="45" ry="23.3"/><text x="1180" y="1531.3">Presentaciones</text><text x="1180" y="1546.3">Públicas</text></g>
<g id="o-tit"><ellipse class="u" cx="1049.3" cy="1606.7" rx="40" ry="20"/><text x="1048" y="1599.3">título de la</text><text x="1048" y="1614.3">presentación</text></g>
<g id="o-lug"><ellipse class="u" cx="1303.6" cy="1606.7" rx="40" ry="20"/><text x="1302" y="1606.7">lugar</text></g>
<g id="o-nom"><ellipse class="u" cx="1176.8" cy="1639.3" rx="40" ry="20"/><text x="1175.5" y="1632.3">nombre del</text><text x="1175.5" y="1647.3">evento</text></g>
<g id="o-fec"><ellipse class="u" cx="1049.3" cy="1684.3" rx="40" ry="20"/><text x="1048" y="1684.3">fecha(s)</text></g>
<g id="o-evi"><ellipse class="u" cx="1303.8" cy="1683.8" rx="43.2" ry="24.5"/><text x="1302.5" y="1676.7">evidencia de la</text><text x="1302.5" y="1691.7">presentación</text></g>
<g id="s-dis"><ellipse class="t" cx="1560.7" cy="1546.7" rx="40" ry="20"/><text x="1559" y="1546.7">Distinciones</text></g>
<g id="s-cla"><ellipse class="u" cx="1446.6" cy="1611.7" rx="40" ry="20"/><text x="1445.5" y="1604.3">Clase de</text><text x="1445.5" y="1619.3">distinción</text></g>
<g id="s-fec"><ellipse class="u" cx="1675.4" cy="1611.7" rx="40" ry="20"/><text x="1674" y="1611.7">Fecha</text></g>
<g id="s-ins"><ellipse class="u" cx="1560.7" cy="1662.2" rx="40" ry="30.5"/><text x="1559" y="1647.7">Institución o</text><text x="1559" y="1662.7">agente</text><text x="1559" y="1677.7">otorgante</text></g>
</svg>
